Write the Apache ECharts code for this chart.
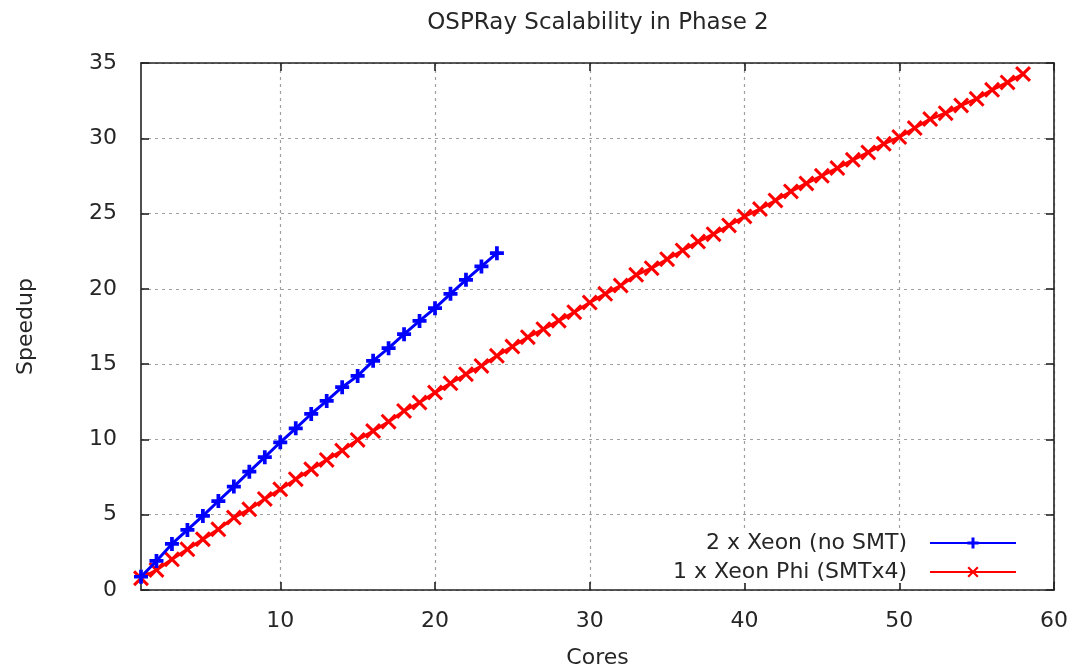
<!DOCTYPE html>
<html>
<head>
<meta charset="utf-8">
<script src="https://cdn.jsdelivr.net/npm/echarts@6/dist/echarts.min.js"></script>
<style>
html,body{margin:0;padding:0;background:#fff;}
#chart{width:1072px;height:667px;}
</style>
</head>
<body>
<div id="chart"></div>
<script>
const titleText = 'OSPRay Scalability in Phase 2';
const xName = 'Cores';
const yName = 'Speedup';
const seriesNames = ['2 x Xeon (no SMT)', '1 x Xeon Phi (SMTx4)'];
const xTicks = [10, 20, 30, 40, 50, 60];

const xeonCores = [1,2,3,4,5,6,7,8,9,10,11,12,13,14,15,16,17,18,19,20,21,22,23,24];
const xeonSpeedup = [0.88,1.93,3.06,3.99,4.92,5.91,6.87,7.86,8.82,9.81,10.74,11.69,12.56,13.47,14.22,15.22,16.06,16.99,17.87,18.72,19.67,20.60,21.49,22.37];

const phiCores = [1,2,3,4,5,6,7,8,9,10,11,12,13,14,15,16,17,18,19,20,21,22,23,24,25,26,27,28,29,30,31,32,33,34,35,36,37,38,39,40,41,42,43,44,45,46,47,48,49,50,51,52,53,54,55,56,57,58];
const phiSpeedup = [0.78,1.33,2.04,2.70,3.37,4.03,4.81,5.36,6.05,6.69,7.36,8.02,8.64,9.26,9.97,10.56,11.18,11.89,12.45,13.11,13.73,14.33,14.88,15.55,16.17,16.79,
  17.32,17.89,18.45,19.09,19.67,20.22,20.93,21.37,21.97,22.55,23.14,23.63,24.21,24.81,25.30,25.87,26.47,
  27.00,27.51,28.02,28.57,29.06,29.63,30.08,30.68,31.28,31.67,32.18,32.62,33.22,33.71,34.27];

const FONT = 'DejaVu Sans';
const TXT = '#262626';
const FS = 22;
const plusPath = 'path://M4.4,0H7.6V4.4H12V7.6H7.6V12H4.4V7.6H0V4.4H4.4Z';
const crossPath = 'path://M0,1.6L1.6,0L6,4.4L10.4,0L12,1.6L7.6,6L12,10.4L10.4,12L6,7.6L1.6,12L0,10.4L4.4,6Z';

const chart = echarts.init(document.getElementById('chart'), null, {renderer: 'canvas'});

const frameLine = {show: true, onZero: false, lineStyle: {color: '#222', width: 1.6}};
const inTick = {show: true, inside: true, length: 8, lineStyle: {color: '#222', width: 1.6}};
const gridLine = {show: true, lineStyle: {color: '#a0a0a0', type: [3, 4], width: 1.2}};

chart.setOption({
  animation: false,
  backgroundColor: '#fff',
  title: {
    text: titleText,
    left: 593,
    textAlign: 'center',
    top: 7,
    textStyle: {fontFamily: FONT, fontSize: 23, fontWeight: 'normal', color: TXT}
  },
  grid: {left: 141, right: 18, top: 63, bottom: 77, containLabel: false, outerBoundsMode: 'none'},
  legend: {
    orient: 'vertical',
    right: 33,
    top: 528,
    align: 'right',
    itemWidth: 86,
    itemHeight: 14,
    itemGap: 7,
    padding: [4, 22, 0, 30],
    backgroundColor: '#fff',
    textStyle: {fontFamily: FONT, fontSize: FS, color: TXT, padding: [0, 18, 0, 0]},
    data: seriesNames
  },
  xAxis: [{
    type: 'value', min: 1, max: 60, position: 'bottom',
    name: xName, nameLocation: 'middle', nameGap: 57,
    nameTextStyle: {fontFamily: FONT, fontSize: FS, color: TXT},
    axisLine: frameLine,
    axisTick: Object.assign({customValues: xTicks}, inTick),
    axisLabel: {customValues: xTicks, margin: 20, fontFamily: FONT, fontSize: FS, color: TXT},
    splitLine: gridLine
  }, {
    type: 'value', min: 1, max: 60, position: 'top',
    axisLine: frameLine,
    axisTick: Object.assign({customValues: xTicks}, inTick),
    axisLabel: {show: false},
    splitLine: {show: false}
  }],
  yAxis: [{
    type: 'value', min: 0, max: 35, interval: 5, position: 'left',
    name: yName, nameLocation: 'middle', nameGap: 104, nameRotate: 90,
    nameTextStyle: {fontFamily: FONT, fontSize: FS, color: TXT},
    axisLine: frameLine,
    axisTick: inTick,
    axisLabel: {margin: 24, fontFamily: FONT, fontSize: FS, color: TXT},
    splitLine: gridLine
  }, {
    type: 'value', min: 0, max: 35, interval: 5, position: 'right',
    axisLine: frameLine,
    axisTick: inTick,
    axisLabel: {show: false},
    splitLine: {show: false}
  }],
  series: [{
    name: seriesNames[0],
    type: 'line',
    xAxisIndex: 0, yAxisIndex: 0,
    data: xeonCores.map((c, i) => [c, xeonSpeedup[i]]),
    symbol: plusPath,
    symbolSize: 14,
    showAllSymbol: true,
    color: '#0000ff',
    lineStyle: {color: '#0000ff', width: 3},
    itemStyle: {color: '#0000ff'},
    z: 3
  }, {
    name: seriesNames[1],
    type: 'line',
    xAxisIndex: 0, yAxisIndex: 0,
    data: phiCores.map((c, i) => [c, phiSpeedup[i]]),
    symbol: crossPath,
    symbolSize: 16,
    showAllSymbol: true,
    color: '#ff0000',
    lineStyle: {color: '#ff0000', width: 3},
    itemStyle: {color: '#ff0000'},
    z: 2
  }]
});
</script>
</body>
</html>
